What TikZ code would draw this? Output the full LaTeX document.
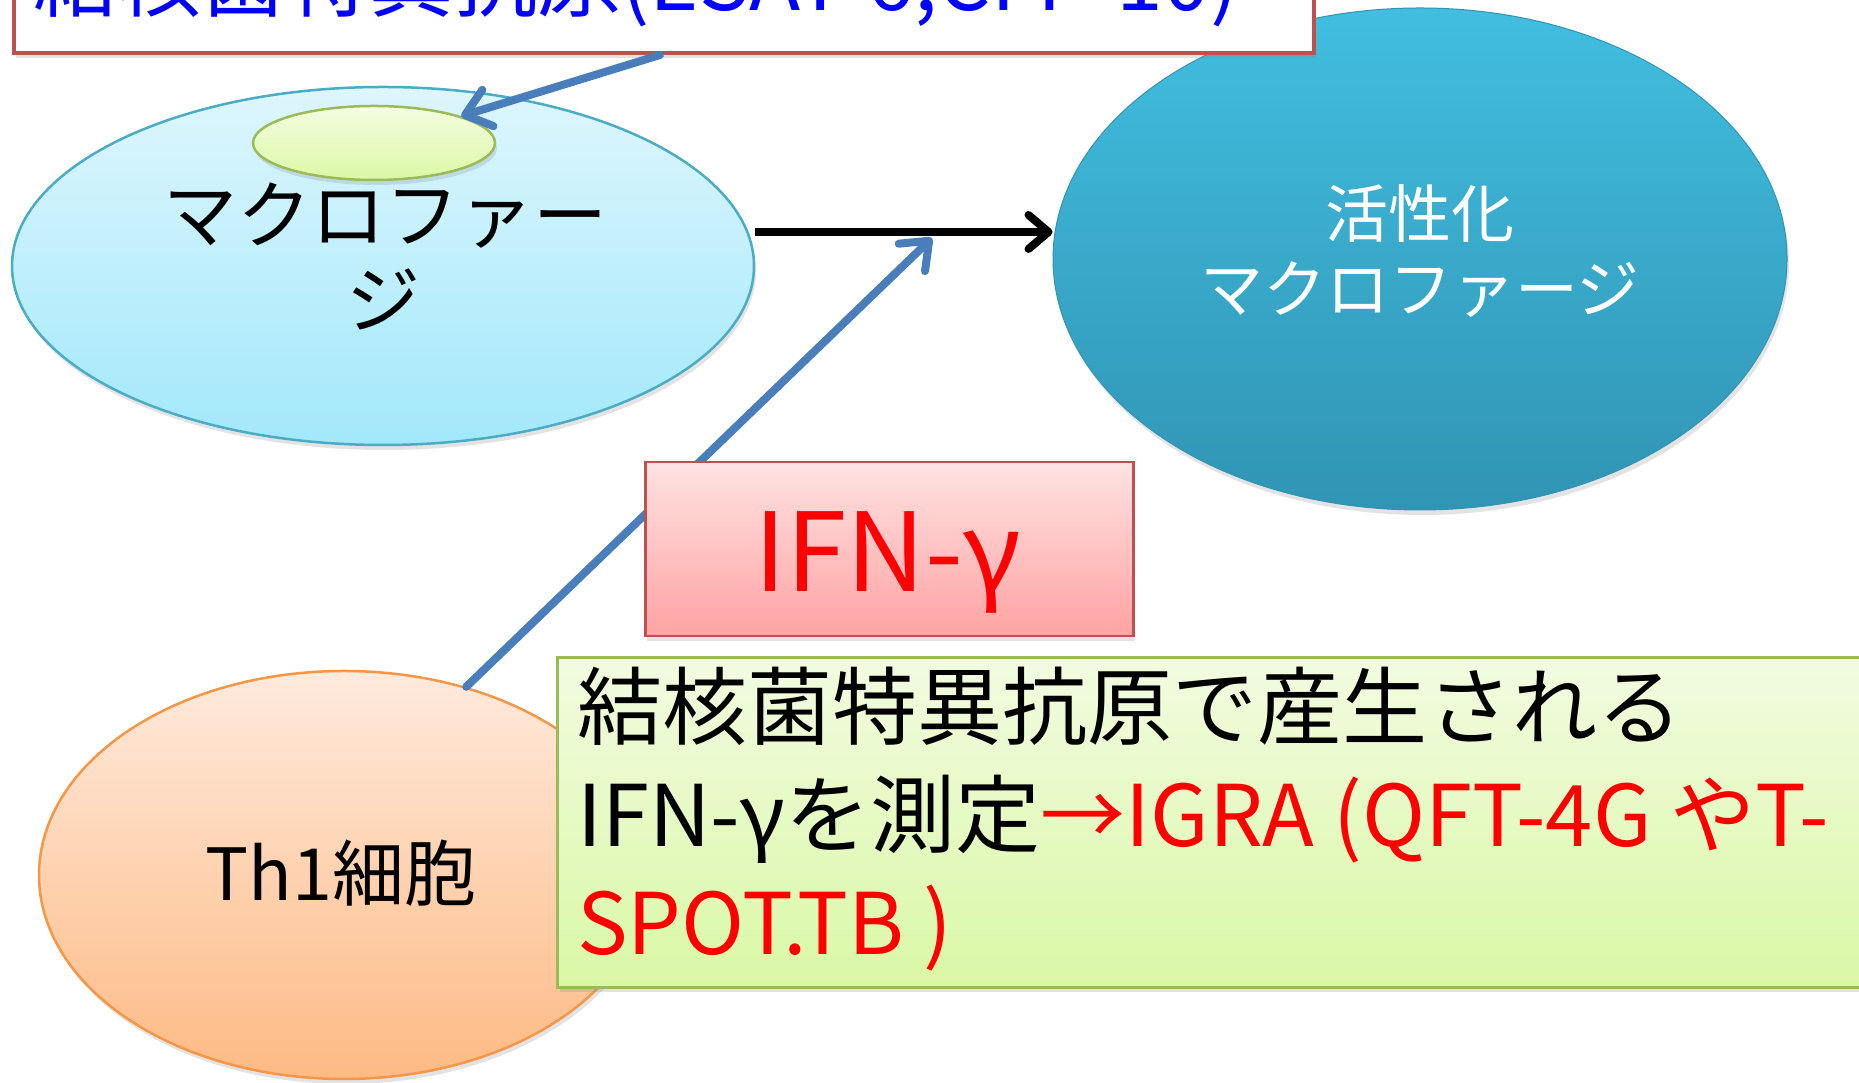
\documentclass[tikz,border=0pt]{standalone}
\usepackage{fontspec}
\setmainfont{Noto Sans CJK JP}
\usetikzlibrary{shapes.geometric,arrows.meta,shadows}
\definecolor{actTop}{HTML}{41BEE0}
\definecolor{actBot}{HTML}{3194B4}
\definecolor{macTop}{HTML}{DEF6FD}
\definecolor{macBot}{HTML}{A2E8FB}
\definecolor{macBorder}{HTML}{4BACC6}
\definecolor{innTop}{HTML}{F3FCE0}
\definecolor{innBot}{HTML}{DCF8A6}
\definecolor{grnBorder}{HTML}{9BBB59}
\definecolor{thTop}{HTML}{FFEADC}
\definecolor{thBot}{HTML}{FDBA84}
\definecolor{thBorder}{HTML}{F79646}
\definecolor{ifnTop}{HTML}{FFE2E2}
\definecolor{ifnBot}{HTML}{FFA2A2}
\definecolor{boxRed}{HTML}{C0504D}
\definecolor{grnTop}{HTML}{F2FBE0}
\definecolor{grnBot}{HTML}{D9F8A5}
\definecolor{arrBlue}{HTML}{4A7EBB}
\definecolor{txtBlue}{HTML}{0000FF}
\definecolor{txtRed}{HTML}{FF0000}
\begin{document}
\begin{tikzpicture}[x=1pt,y=1pt,
  ell/.style={ellipse, inner sep=0pt},
  shad/.style={drop shadow={shadow xshift=2pt,shadow yshift=-5pt,opacity=0.22}},
  lbl/.style={inner sep=0pt, anchor=base},
  gtext/.style={inner sep=0pt, anchor=base west, font=\fontsize{85}{100}\selectfont},
  bluearrow/.style={draw=arrBlue, line width=8pt, line cap=round, -{Straight Barb[length=24pt,width=38pt,round]}},
  blackarrow/.style={draw=black, line width=8pt, -{Straight Barb[length=20pt,width=34pt,round]}}
]
\useasboundingbox (0,0) rectangle (1859,1083);
\clip (0,0) rectangle (1859,1083);
\fill[white] (0,0) rectangle (1859,1083);

% activated macrophage
\node[ell, shad, minimum width=734pt, minimum height=502pt, top color=actTop, bottom color=actBot, draw=actBot, line width=1pt] (act) at (1420,824) {};
\node[lbl, text=white, font=\fontsize{63}{73}\selectfont] (actl1) at (1420,845) {活性化};
\node[lbl, text=white, font=\fontsize{63}{73}\selectfont] (actl2) at (1420,770) {マクロファージ};

% top antigen box
\node[shad, draw=boxRed, line width=4pt, fill=white, minimum width=1300pt, minimum height=140pt, anchor=south west, inner sep=0pt] (topbox) at (12,1028) {};
\node[inner sep=0pt, anchor=base west, text=txtBlue, font=\fontsize{84}{100}\selectfont] (toptext) at (33,1072) {結核菌特異抗原(ESAT-6,CFP-10)};

% macrophage
\node[ell, shad, minimum width=742pt, minimum height=358pt, top color=macTop, bottom color=macBot, draw=macBorder, line width=2.5pt] (mac) at (383,817) {};
\node[ell, shad, minimum width=242pt, minimum height=74pt, top color=innTop, bottom color=innBot, draw=grnBorder, line width=2.5pt] (inner) at (374,940) {};
\node[lbl, font=\fontsize{74}{89}\selectfont] (macl1) at (385,840) {マクロファー};
\node[lbl, font=\fontsize{74}{89}\selectfont] (macl2) at (383,755) {ジ};

% arrows in upper half
\coordinate (tstart) at (660,1028);
\draw[bluearrow] (tstart) -- (inner);
\coordinate (hy) at (0,851);
\draw[blackarrow] (mac.east |- hy) -- (act.west |- hy);

% Th1 cell
\node[ell, shad, minimum width=610pt, minimum height=408pt, top color=thTop, bottom color=thBot, draw=thBorder, line width=2.5pt] (th1) at (344,208) {};
\node[lbl, font=\fontsize{72}{86}\selectfont] (th1l) at (341,182) {Th1細胞};

% IFN arrow (behind IFN box)
\coordinate (ltip) at (932,845);
\draw[bluearrow] (th1.57) -- (ltip);

% IFN box
\node[shad, draw=boxRed, line width=2.5pt, top color=ifnTop, bottom color=ifnBot, minimum width=488pt, minimum height=174pt, anchor=north west, inner sep=0pt] (ifn) at (644,622) {};
\node[lbl, text=txtRed, font=\fontsize{109}{126}\selectfont] (ifnl) at (888,491) {IFN-γ};

% green explanation box
\node[shad, draw=grnBorder, line width=3pt, top color=grnTop, bottom color=grnBot, minimum width=1340pt, minimum height=330pt, anchor=north west, inner sep=0pt] (gbox) at (556,427) {};
\node[gtext] (g1) at (577,344) {結核菌特異抗原で産生される};
\node[gtext] (g2) at (577,236) {IFN-γを測定\textcolor{txtRed}{→IGRA (QFT-4G やT-}};
\node[gtext, text=txtRed] (g3) at (577,128) {SPOT.TB )};
\end{tikzpicture}
\end{document}
